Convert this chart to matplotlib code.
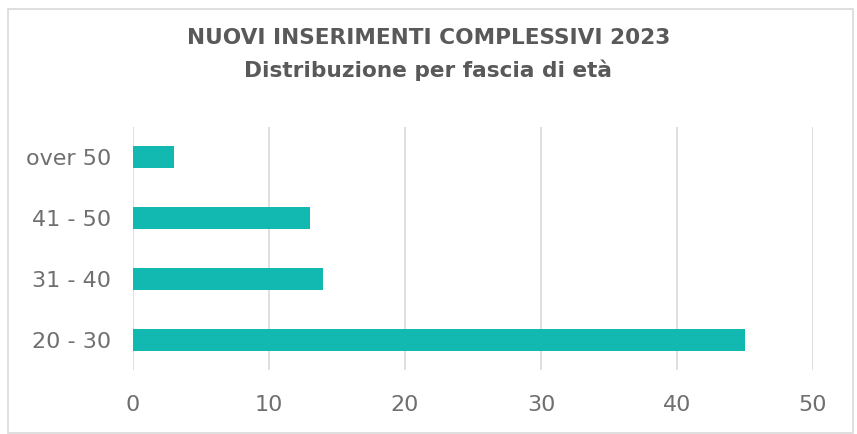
import matplotlib.pyplot as plt
from matplotlib.patches import FancyBboxPatch

# data
categories = ["20 - 30", "31 - 40", "41 - 50", "over 50"]
values = [45, 14, 13, 3]
x_ticks = [0, 10, 20, 30, 40, 50]

BAR = "#12B9B0"
GRID = "#d9d9d9"
TEXT = "#595959"
TICK = "#6f6f6f"

fig = plt.figure(figsize=(8.57, 4.34), dpi=100)
ax = fig.add_axes([133 / 857, 1 - 370 / 434, 680 / 857, 243 / 434])

# outer frame of the chart area
fig.patches.append(FancyBboxPatch((8 / 857, 1 / 434), 845 / 857, 424 / 434,
                                  boxstyle="square,pad=0", transform=fig.transFigure,
                                  fill=False, edgecolor=GRID, linewidth=1.2))

ypos = list(range(len(categories)))
ax.barh(ypos, values, height=0.36, color=BAR, zorder=3)

ax.set_xlim(0, 50)
ax.set_ylim(-0.5, len(categories) - 0.5)
ax.set_xticks(x_ticks)
ax.set_yticks(ypos)
ax.set_yticklabels(categories)
ax.xaxis.grid(True, color=GRID, linewidth=1.2, zorder=0)
ax.tick_params(axis="both", length=0, labelsize=16, labelcolor=TICK)
ax.tick_params(axis="x", pad=18)
ax.tick_params(axis="y", pad=16)
for s in ax.spines.values():
    s.set_visible(False)

fig.text(0.5, 1 - 38 / 434, "NUOVI INSERIMENTI COMPLESSIVI 2023",
         ha="center", va="center", fontsize=15.6, fontweight="bold", color=TEXT)
fig.text(0.5, 1 - 70 / 434, "Distribuzione per fascia di età",
         ha="center", va="center", fontsize=15.6, fontweight="bold", color=TEXT)

fig.savefig("out.png", dpi=100)
